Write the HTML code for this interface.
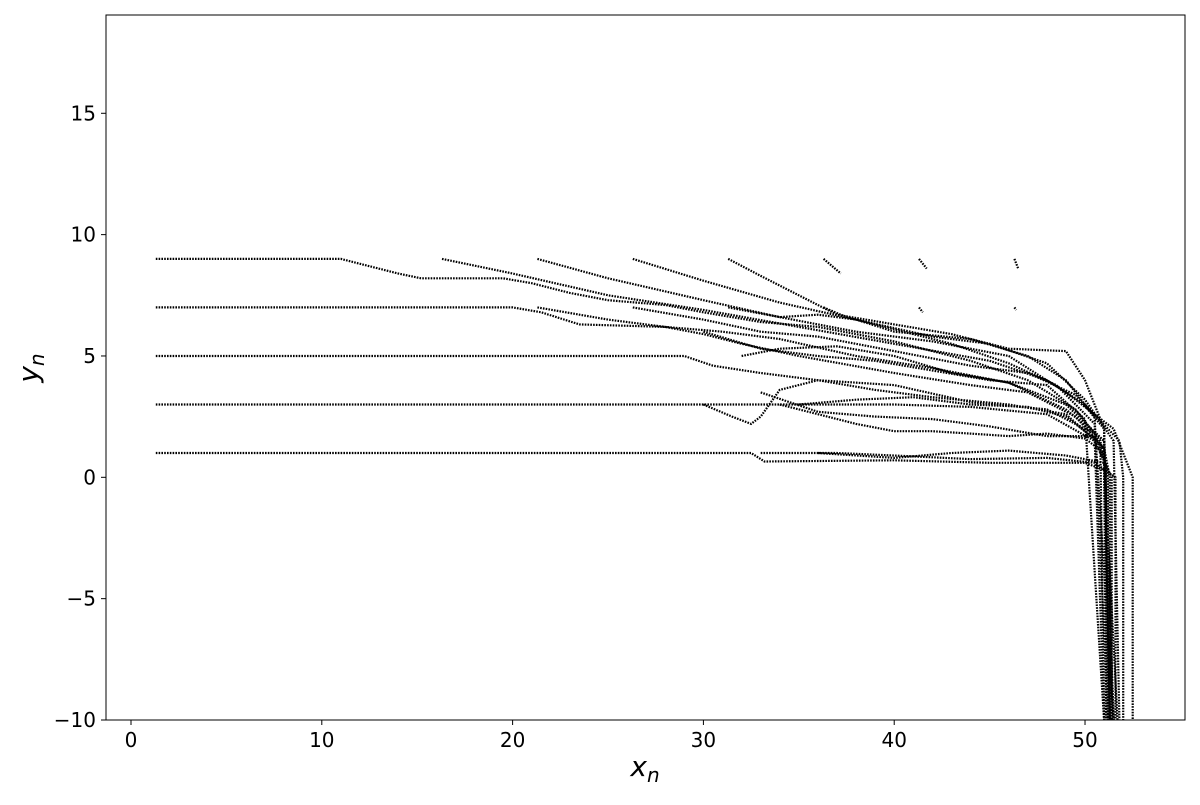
<!DOCTYPE html>
<html><head><meta charset="utf-8"><style>
html,body{margin:0;padding:0;background:#fff;}
svg text{font-family:"DejaVu Sans","Liberation Sans",sans-serif;}
</style></head><body>
<svg id="chart" width="1200" height="800" xmlns="http://www.w3.org/2000/svg">
<rect x="0" y="0" width="1200" height="800" fill="#fff"/>
<g id="marks"></g>
<g id="axes"></g>
</svg>
<script>
const xTicks=[0,10,20,30,40,50];
const yTicks=[-10,-5,0,5,10,15];
const trajMain9=[[1.3,9],[11,9],[12,8.8],[14,8.4],[15.2,8.2],[19.5,8.2],[21,8.0],[23,7.6],[25,7.3],[28,7.1],[30,6.8],[33,6.4],[36,6.2],[40,5.6],[44,4.8],[47,4.0],[49.5,2.8],[50.8,1.5],[51.2,0],[51.2,-10]];
const trajMain7=[[1.3,7],[20,7],[21.5,6.8],[23.5,6.3],[28,6.2],[30,5.9],[32,5.5],[35,5.0],[40,4.3],[44,3.8],[47,3.5],[49.5,2.5],[51,1.2],[51.3,0],[51.3,-10]];
const trajMain5=[[1.3,5],[29,5],[30.5,4.6],[33,4.3],[36,4.0],[40,3.8],[44,3.1],[48,2.8],[50.5,1.8],[51.1,0.5],[51.1,-10]];
const trajMain3=[[1.3,3],[40,3.0],[44,2.9],[48,2.6],[50.5,1.5],[51.4,0],[51.4,-10]];
const trajMain1=[[1.3,1],[32.5,1],[33.2,0.65],[40,0.7],[45,0.6],[50,0.6],[51,0.3],[51.2,-10]];
const trajB3=[[30,3],[31.5,2.5],[32.5,2.2],[33,2.5],[34,3.6],[36,4.0],[39,3.6],[42,3.3],[46,3.0],[49,2.6],[51,1.2],[51.3,-10]];
const trajB1=[[33,1],[37,1],[40,0.9],[44,0.75],[48,0.8],[50.5,0.6],[51.6,0],[51.6,-10]];
const trajS16a=[[16.3,9],[20,8.4],[25,7.5],[30,6.9],[35,6.2],[40,5.5],[45,4.8],[48,4],[50,3],[51.8,1.5],[52,0],[52,-10]];
const trajS21a=[[21.3,9],[25,8.2],[30,7.3],[34,6.6],[38,6.0],[42,5.6],[46,5],[49,3.5],[51.5,2],[52.5,0],[52.5,-10]];
const trajS21b=[[21.3,7],[25,6.5],[28,6.2],[31,6],[34,5.7],[38,5],[42,4.5],[46,3.9],[49,2.8],[51,1.5],[51.5,-10]];
const trajS26a=[[26.3,9],[30,8.1],[34,7.2],[38,6.5],[42,5.8],[45,5.5],[48,4.7],[50,3.2],[51.5,1.5],[51.8,-10]];
const trajS26b=[[26.3,7],[30,6.5],[33,6.0],[36,5.8],[40,5.2],[44,4.6],[47,4.3],[49.5,3.4],[51,2],[51.4,-10]];
const trajS31a=[[31.3,9],[33,8.3],[35,7.5],[37,6.7],[40,6.3],[43,5.9],[46,5.3],[49,5.2],[50,4],[51,2],[51.3,-10]];
const trajS31b=[[31.3,7],[34,6.6],[36,6.7],[38,6.5],[40,6],[44,5.7],[47,5],[49,4],[50.5,2.5],[51.2,-10]];
const trajS36a=[[36.3,9],[37.2,8.4]];
const trajS36b=[[36.3,7],[37.5,6.6],[40,6.1],[43,5.5],[46,4.7],[48.5,3.8],[50.5,2.2],[51.5,-10]];
const trajS41a=[[41.3,9],[41.7,8.6]];
const trajS41b=[[41.3,7],[41.5,6.8]];
const trajS46a=[[46.3,9],[46.5,8.6]];
const trajS46b=[[46.3,7],[46.4,6.9]];
const trajW1=[[34,3],[36,2.6],[38,2.2],[40,1.9],[42,1.9],[44,1.8],[46,1.7],[48,1.8],[50,1.6],[51,1],[51.1,-10]];
const trajW2=[[35,3],[38,3.2],[41,3.3],[44,3.0],[47,2.9],[49,2.5],[50.8,1.4],[51,-10]];
const trajW3=[[32,5],[34,5.3],[37,5.4],[40,5.0],[43,4.3],[46,3.9],[49,3],[51,1.5],[51.5,-10]];
const trajW4=[[30,6],[33,5.3],[36,5.0],[39,4.8],[42,4.4],[45,4.0],[48,3.8],[50,2.4],[51,-10]];
const trajW5=[[33,3.5],[36,2.7],[39,2.5],[42,2.4],[45,2.1],[48,1.7],[50.5,1.7],[51,-10]];
const trajW6=[[36,1],[40,0.8],[43,1],[46,1.1],[49,0.9],[51,0.6],[51.7,-10]];
const trajectories=[trajMain9,trajMain7,trajMain5,trajMain3,trajMain1,trajB3,trajB1,trajS16a,trajS21a,trajS21b,trajS26a,trajS26b,trajS31a,trajS31b,trajS36a,trajS36b,trajS41a,trajS41b,trajS46a,trajS46b,trajW1,trajW2,trajW3,trajW4,trajW5,trajW6];

const L=106,R=1185,T=15,B=720;
const xMin=-1.31,xMax=55.24,yMin=-10,yMax=19.05;
const sx=v=>L+(v-xMin)/(xMax-xMin)*(R-L);
const sy=v=>B-(v-yMin)/(yMax-yMin)*(B-T);
const NS="http://www.w3.org/2000/svg";
const marks=document.getElementById('marks');
const axes=document.getElementById('axes');
function mk(tag,attrs,parent){const e=document.createElementNS(NS,tag);for(const k in attrs)e.setAttribute(k,attrs[k]);parent.appendChild(e);return e;}

const clip=mk('clipPath',{id:'pc'},marks);
mk('rect',{x:L,y:T,width:R-L,height:B-T},clip);
trajectories.forEach((tr,i)=>{
  const p=mk('polyline',{points:tr.map(d=>sx(d[0]).toFixed(1)+','+sy(d[1]).toFixed(1)).join(' '),fill:'none',stroke:'#000','stroke-width':'2.2','stroke-dasharray':'1.6 1.2','clip-path':'url(#pc)'},marks);
  
  
});

const frame=mk('rect',{x:L,y:T,width:R-L,height:B-T,fill:'none',stroke:'#000','stroke-width':'1'},axes);


xTicks.forEach(v=>{
  const x=sx(v);
  mk('line',{x1:x,x2:x,y1:B,y2:B+5,stroke:'#000'},axes);
  const t=mk('text',{x:x,y:B+27,'text-anchor':'middle','font-size':'20'},axes);
  t.textContent=String(v);
  
  
});
yTicks.forEach(v=>{
  const y=sy(v);
  mk('line',{x1:L-5,x2:L,y1:y,y2:y,stroke:'#000'},axes);
  const t=mk('text',{x:L-10,y:y+7,'text-anchor':'end','font-size':'20'},axes);
  t.textContent=v<0?'\u2212'+Math.abs(v):String(v);
  
  
});
const xt=mk('text',{x:645,y:776,'text-anchor':'middle','font-size':'28','font-style':'italic'},axes);
xt.innerHTML='x<tspan font-size="20" dy="6">n</tspan>';


const yt=mk('text',{x:0,y:0,'text-anchor':'middle','font-size':'28','font-style':'italic',transform:'translate(38,368) rotate(-90)'},axes);
yt.innerHTML='y<tspan font-size="20" dy="6">n</tspan>';


</script>
</body></html>
